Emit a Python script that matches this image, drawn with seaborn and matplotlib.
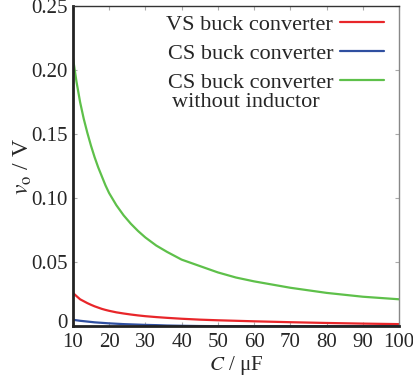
import numpy as np
import pandas as pd
import matplotlib
matplotlib.use('Agg')
import matplotlib.pyplot as plt
import matplotlib.transforms as mtransforms
import seaborn as sns

# 读取自图中的数据 (C 单位 μF, v_o 单位 V)
C_uF = [10, 11, 12, 13, 14, 15, 16, 17, 18, 19, 20, 22, 24, 26, 28, 30,
        33, 36, 40, 45, 50, 55, 60, 70, 80, 90, 100]
vs_buck = [0.026, 0.0235, 0.021, 0.0195, 0.018, 0.0167, 0.0155, 0.0145, 0.0135,
           0.0127, 0.012, 0.0108, 0.0099, 0.0091, 0.0084, 0.0078,
           0.0071, 0.0065, 0.0058, 0.0051, 0.0046, 0.0042, 0.0038,
           0.0031, 0.0025, 0.0020, 0.0016]
cs_buck = [0.0050, 0.0046, 0.0042, 0.0039, 0.0036, 0.0033, 0.0030, 0.0028, 0.0026,
           0.0024, 0.0022, 0.0019, 0.0016, 0.0014, 0.0012, 0.0010,
           0.0008, 0.0005, 0.0003, 0.0001, 0.0, 0.0, 0.0,
           0.0, 0.0, 0.0, 0.0]
cs_no_ind = [0.210, 0.191, 0.175, 0.162, 0.151, 0.141, 0.132, 0.124, 0.117,
             0.110, 0.104, 0.0945, 0.0866, 0.0800, 0.0743, 0.0693,
             0.063, 0.058, 0.052, 0.047, 0.042, 0.038, 0.035,
             0.030, 0.026, 0.023, 0.021]

labels = ['VS buck converter', 'CS buck converter', 'CS buck converter']
extra_line = 'without inductor'
colors = ['#e8262a', '#2f4fa0', '#5ec04a']
series_ids = ['vs', 'cs', 'cs_no_L']

n = len(C_uF)
df = pd.DataFrame({
    'C': C_uF * 3,
    'v': vs_buck + cs_buck + cs_no_ind,
    'series': [series_ids[0]] * n + [series_ids[1]] * n + [series_ids[2]] * n,
})

sns.set_style('ticks')
plt.rcParams['font.family'] = ['Liberation Serif', 'DejaVu Serif']
plt.rcParams['mathtext.fontset'] = 'stix'

fig = plt.figure(figsize=(4.14, 3.86), dpi=100)
ax = fig.add_axes([0.176, 0.155, 0.788, 0.829])

sns.lineplot(data=df, x='C', y='v', hue='series', hue_order=series_ids,
             palette=colors, linewidth=1.6, ax=ax, legend=False)

ax.set_xlim(10, 100)
ax.set_ylim(0, 0.25)
ax.set_xticks(range(10, 101, 10))
ax.set_yticks([0, 0.05, 0.10, 0.15, 0.20, 0.25])
ax.set_yticklabels(['0', '0.05', '0.10', '0.15', '0.20', '0.25'])
ax.tick_params(axis='both', labelsize=15, direction='in', length=3,
               color='#aaaaaa', top=True, right=True, pad=4)
ax.tick_params(axis='x', pad=5)
ax.set_xlabel(r'$C$ / μF', fontsize=15, labelpad=1)
ax.set_ylabel(r'$v_\mathrm{o}$ / V', fontsize=17, labelpad=-2)

# y轴 "0" 标签稍微上移, 避免与 x 轴 "10" 重叠
zero_lbl = ax.get_yticklabels()[0]
zero_lbl.set_transform(zero_lbl.get_transform() +
                       mtransforms.ScaledTranslation(0, 4 / 72, fig.dpi_scale_trans))

for side in ['left', 'bottom']:
    ax.spines[side].set_linewidth(2.0)
    ax.spines[side].set_color('#222222')
ax.spines['top'].set_linewidth(1.0)
ax.spines['top'].set_color('#333333')
ax.spines['right'].set_linewidth(1.0)
ax.spines['right'].set_color('#888888')

handles = ax.get_lines()[:3]
leg = ax.legend(handles, labels, loc='upper right', bbox_to_anchor=(0.975, 0.996),
                frameon=False, markerfirst=False, fontsize=16, handlelength=2.0,
                handletextpad=0.3, labelspacing=0.38, borderpad=0.3,
                borderaxespad=0)

# 第三项图例的第二行文字
fig.canvas.draw()
ax.annotate(extra_line, xy=(0, 0), xycoords=leg.get_texts()[2],
            xytext=(3, 0), textcoords='offset points', va='top', ha='left',
            fontsize=16, zorder=6)

fig.savefig('out.png', dpi=100)
